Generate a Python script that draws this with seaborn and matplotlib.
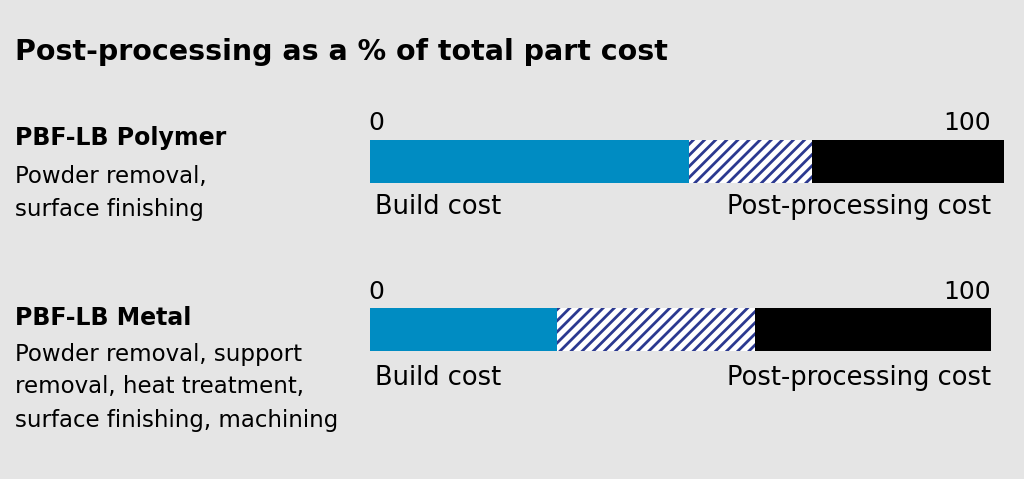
import matplotlib
matplotlib.use("Agg")
import matplotlib.pyplot as plt
import seaborn as sns
import pandas as pd

categories = ["PBF-LB Polymer", "PBF-LB Metal"]
descriptions = [["Powder removal,", "surface finishing"],
                ["Powder removal, support", "removal, heat treatment,", "surface finishing, machining"]]
build_cost = [50.3, 29.5]
post_hatched = [19.4, 31.2]
post_solid = [30.3, 37.3]
tick_labels = ["0", "100"]

df = pd.DataFrame({"cat": categories, "build": build_cost, "hatch": post_hatched, "solid": post_solid})
df["cum_hatch"] = df["build"] + df["hatch"]
df["total"] = df["cum_hatch"] + df["solid"]

plt.rcParams["hatch.linewidth"] = 2.0
plt.rcParams["hatch.color"] = "#2b3990"
bg = "#e5e5e5"
fig = plt.figure(figsize=(10.24, 4.79), dpi=100, facecolor=bg)
ax = fig.add_axes([370/1024, 0, 634/1024, 1])
ax.set_facecolor("none")
sns.barplot(data=df, x="total", y="cat", orient="h", color="black", width=0.256, ax=ax, saturation=1)
n = len(ax.patches)
sns.barplot(data=df, x="cum_hatch", y="cat", orient="h", color="white", width=0.256, ax=ax, saturation=1)
for p in ax.patches[n:]:
    p.set_hatch("///"); p.set_edgecolor("#2b3990"); p.set_linewidth(0)
sns.barplot(data=df, x="build", y="cat", orient="h", color="#008cc2", width=0.256, ax=ax, saturation=1)
ax.set_xlim(0, 100)
ax.set_ylim((479-161.5)/168, -161.5/168)
ax.axis("off")

font = "DejaVu Sans"
def T(x, y, s, **kw):
    fig.text(x/1024, 1 - y/479, s, family=font, va="center", **kw)

T(15, 52, "Post-processing as a % of total part cost", fontsize=20.5, weight="bold")
rows = [(138, [176, 209], 123, 207), (318, [355, 387, 420], 292, 378)]
for i, (yh, ys, yt, yb) in enumerate(rows):
    T(15, yh, categories[i], fontsize=17, weight="bold")
    for y, s in zip(ys, descriptions[i]):
        T(15, y, s, fontsize=16.5)
    T(368, yt, tick_labels[0], fontsize=18)
    T(991, yt, tick_labels[1], fontsize=18, ha="right")
    T(375, yb, "Build cost", fontsize=18.5)
    T(991, yb, "Post-processing cost", fontsize=18.5, ha="right")

fig.savefig("out.png", dpi=100, facecolor=bg)
